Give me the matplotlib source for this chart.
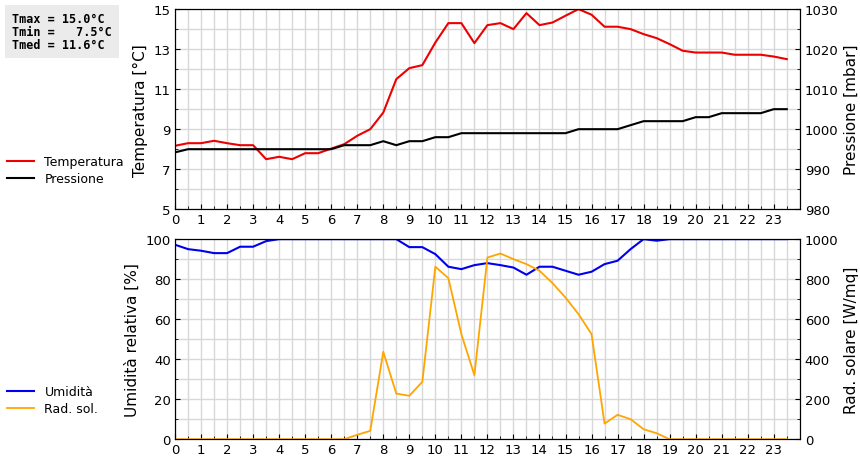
import numpy as np
import matplotlib.pyplot as plt
from matplotlib.ticker import MultipleLocator

# -- data (half-hourly) --
ore = np.arange(0, 24, 0.5)
temperatura = [8.17, 8.3, 8.3, 8.42, 8.3, 8.2, 8.2, 7.5, 7.62, 7.5, 7.8, 7.8,
               8.03, 8.25, 8.67, 9.0, 9.83, 11.5, 12.05, 12.2, 13.33, 14.3, 14.3, 13.3,
               14.2, 14.3, 14.0, 14.8, 14.2, 14.33, 14.67, 15.0, 14.72, 14.12, 14.12, 14.0,
               13.75, 13.55, 13.25, 12.92, 12.83, 12.83, 12.83, 12.72, 12.72, 12.72, 12.63, 12.5]
pressione = [994.2, 995, 995, 995, 995, 995, 995, 995, 995, 995, 995, 995,
             995, 996, 996, 996, 997, 996, 997, 997, 998, 998, 999, 999,
             999, 999, 999, 999, 999, 999, 999, 1000, 1000, 1000, 1000, 1001,
             1002, 1002, 1002, 1002, 1003, 1003, 1004, 1004, 1004, 1004, 1005, 1005]
umidita = [97.2, 95, 94.2, 93, 93, 96.2, 96.2, 99, 100, 100, 100, 100,
           100, 100, 100, 100, 100, 100, 96, 96, 92.5, 86.2, 85, 87,
           88, 87, 85.8, 82.2, 86.2, 86.2, 84.2, 82.2, 83.7, 87.5, 89.2, 95,
           100, 99.2, 100, 100, 100, 100, 100, 100, 100, 100, 100, 100]
rad_sol = [0, 0, 0, 0, 0, 0, 0, 0, 0, 0, 0, 0,
           0, 0, 22, 42, 437, 228, 217, 287, 862, 805, 525, 320,
           908, 928, 900, 875, 842, 780, 708, 625, 525, 78, 122, 100,
           50, 30, 0, 0, 0, 0, 0, 0, 0, 0, 0, 0]

plt.rcParams['font.size'] = 9.5
fig = plt.figure(figsize=(8.6, 4.6), dpi=100)
grid_kw = dict(color='#d8d8d8', linewidth=1)

def setup_x(ax):
    ax.set_xlim(0, 24)
    ax.set_xticks(range(24))
    ax.xaxis.set_minor_locator(MultipleLocator(0.5))
    ax.grid(True, which='both', **grid_kw)
    ax.set_axisbelow(True)
    ax.tick_params(which='both', direction='in', pad=3)

# -- top: temperature / pressure --
ax1 = fig.add_axes([0.2035, 0.543, 0.7265, 0.435])
setup_x(ax1)
ax1.set_ylim(5, 15)
ax1.set_yticks(range(5, 16, 2))
ax1.yaxis.set_minor_locator(MultipleLocator(1))
ax1.set_ylabel('Temperatura [°C]', fontsize=11)
l1, = ax1.plot(ore, temperatura, color='#ee0000', lw=1.5, label='Temperatura')
ax1r = ax1.twinx()
ax1r.set_ylim(980, 1030)
ax1r.set_yticks(range(980, 1031, 10))
ax1r.yaxis.set_minor_locator(MultipleLocator(5))
ax1r.tick_params(which='both', direction='in')
ax1r.set_ylabel('Pressione [mbar]', fontsize=11)
l2, = ax1r.plot(ore, pressione, color='black', lw=1.5, label='Pressione')
fig.legend([l1, l2], ['Temperatura', 'Pressione'], loc='upper left',
           bbox_to_anchor=(-0.005, 0.685), frameon=False, handlelength=2.2,
           fontsize=9, labelspacing=0.3)

# -- bottom: humidity / solar radiation --
ax2 = fig.add_axes([0.2035, 0.043, 0.7265, 0.435])
setup_x(ax2)
ax2.set_ylim(0, 100)
ax2.set_yticks(range(0, 101, 20))
ax2.yaxis.set_minor_locator(MultipleLocator(10))
ax2.set_ylabel('Umidità relativa [%]', fontsize=11)
l3, = ax2.plot(ore, umidita, color='#0000ee', lw=1.5, label='Umidità')
ax2r = ax2.twinx()
ax2r.set_ylim(0, 1000)
ax2r.set_yticks(range(0, 1001, 200))
ax2r.yaxis.set_minor_locator(MultipleLocator(100))
ax2r.tick_params(which='both', direction='in')
ax2r.set_ylabel('Rad. solare [W/mq]', fontsize=11)
l4, = ax2r.plot(ore, rad_sol, color='orange', lw=1.3, label='Rad. sol.')
fig.legend([l3, l4], ['Umidità', 'Rad. sol.'], loc='upper left',
           bbox_to_anchor=(-0.005, 0.185), frameon=False, handlelength=2.2,
           fontsize=9, labelspacing=0.3)

# stats box
t = np.array(temperatura)
fig.text(0.014, 0.972, f"Tmax = {t.max():4.1f}°C\nTmin = {t.min():5.1f}°C\nTmed = {11.6:4.1f}°C",
         family='DejaVu Sans Mono', weight='bold', fontsize=8.5, va='top', ha='left',
         linespacing=1.0,
         bbox=dict(boxstyle='square,pad=0.6', fc='#ebebeb', ec='none'))

fig.savefig('out.png', dpi=100)
